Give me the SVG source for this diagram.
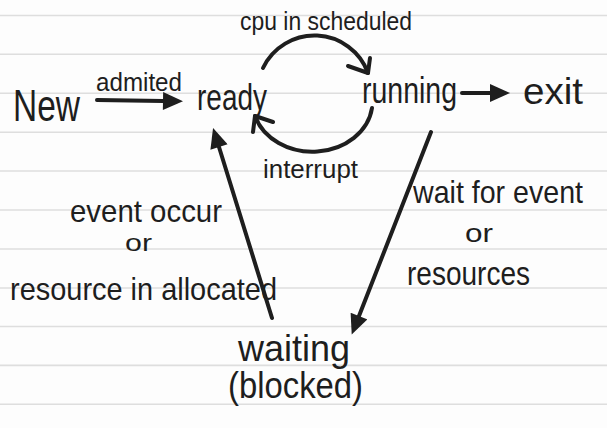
<svg xmlns="http://www.w3.org/2000/svg" width="607" height="428" viewBox="0 0 607 428">
<style>
.rule{stroke:#dedede;stroke-width:1.6}
.t{font-family:"Liberation Sans Narrow","Liberation Sans",sans-serif;fill:#1e1e1e}
.edge{fill:none;stroke:#1e1e1e;stroke-width:4;stroke-linecap:round}
.chev{fill:none;stroke:#1e1e1e;stroke-width:4;stroke-linecap:round;stroke-linejoin:round}
</style>
<defs>
<marker id="head" viewBox="0 0 20 18" markerUnits="userSpaceOnUse" markerWidth="21" markerHeight="18" refX="0" refY="9" orient="auto">
<path d="M0,0 L20,9 L0,18 Z" fill="#1e1e1e"/>
</marker>
</defs>
<rect width="607" height="428" fill="#fdfdfd"/>
<g id="paper">
<line class="rule" x1="0" y1="15.5" x2="607" y2="15.5"/>
<line class="rule" x1="0" y1="54.3" x2="607" y2="54.3"/>
<line class="rule" x1="0" y1="93.3" x2="607" y2="93.3"/>
<line class="rule" x1="0" y1="132.2" x2="607" y2="132.2"/>
<line class="rule" x1="0" y1="171" x2="607" y2="171"/>
<line class="rule" x1="0" y1="210" x2="607" y2="210"/>
<line class="rule" x1="0" y1="249" x2="607" y2="249"/>
<line class="rule" x1="0" y1="288" x2="607" y2="288"/>
<line class="rule" x1="0" y1="326.5" x2="607" y2="326.5"/>
<line class="rule" x1="0" y1="365.4" x2="607" y2="365.4"/>
<line class="rule" x1="0" y1="404.3" x2="607" y2="404.3"/>
</g>
<g id="connectors">
<path class="edge" d="M97,100 L163,101" marker-end="url(#head)"/>
<path class="edge" d="M462,93 L490,93" marker-end="url(#head)"/>
<path class="edge" d="M263,68 A57,57 0 0 1 368,73"/>
<path class="chev" d="M348,66 L368,73 L370,58"/>
<path class="edge" d="M372,108 A60,50 0 0 1 255,116"/>
<path class="chev" d="M273,122 L255,116 L253,132"/>
<path class="edge" d="M272,318 L219,147" marker-end="url(#head)"/>
<path class="edge" d="M431,132 L359,316" marker-end="url(#head)"/>
</g>
<g id="labels">
<text class="t" x="240" y="30" font-size="26" textLength="172" lengthAdjust="spacingAndGlyphs">cpu in scheduled</text>
<text class="t" x="96" y="91" font-size="26" textLength="86" lengthAdjust="spacingAndGlyphs">admited</text>
<text class="t" x="263" y="178" font-size="26" textLength="95" lengthAdjust="spacingAndGlyphs">interrupt</text>
<text class="t" x="70" y="222" font-size="32" textLength="152" lengthAdjust="spacingAndGlyphs">event occur</text>
<text class="t" x="125" y="251" font-size="24" textLength="27" lengthAdjust="spacingAndGlyphs">or</text>
<text class="t" x="10" y="300" font-size="32" textLength="267" lengthAdjust="spacingAndGlyphs">resource in allocated</text>
<text class="t" x="413" y="203" font-size="32" textLength="170" lengthAdjust="spacingAndGlyphs">wait for event</text>
<text class="t" x="465" y="242" font-size="26" textLength="28" lengthAdjust="spacingAndGlyphs">or</text>
<text class="t" x="407" y="285" font-size="34" textLength="123" lengthAdjust="spacingAndGlyphs">resources</text>
</g>
<g id="node-new"><text class="t" x="13" y="121" font-size="44" textLength="67" lengthAdjust="spacingAndGlyphs">New</text></g>
<g id="node-ready"><text class="t" x="197" y="110" font-size="36" textLength="70" lengthAdjust="spacingAndGlyphs">ready</text></g>
<g id="node-running"><text class="t" x="362" y="103" font-size="36" textLength="95" lengthAdjust="spacingAndGlyphs">running</text></g>
<g id="node-exit"><text class="t" x="523" y="104" font-size="36" textLength="60" lengthAdjust="spacingAndGlyphs">exit</text></g>
<g id="node-waiting">
<text class="t" x="238" y="361" font-size="36" textLength="112" lengthAdjust="spacingAndGlyphs">waiting</text>
<text class="t" x="228" y="398" font-size="36" textLength="135" lengthAdjust="spacingAndGlyphs">(blocked)</text>
</g>
</svg>
